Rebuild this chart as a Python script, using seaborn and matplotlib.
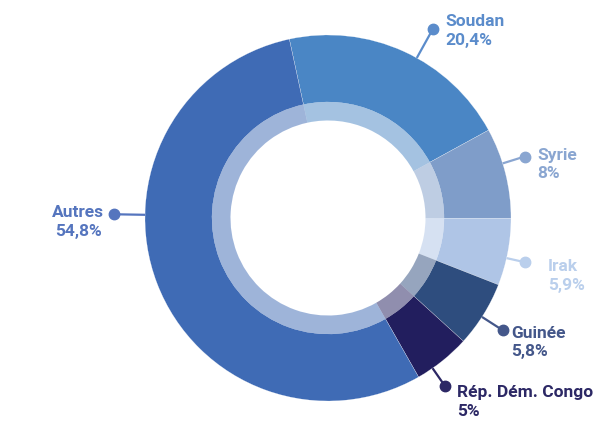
import numpy as np
import matplotlib
matplotlib.use("Agg")
import matplotlib.pyplot as plt
import seaborn as sns

# Origin of asylum applications (share in %)
countries = ["Soudan", "Syrie", "Irak", "Guinée", "Rép. Dém. Congo", "Autres"]
shares = [20.4, 8, 5.9, 5.8, 5, 54.8]

slice_colors = ["#4A86C5", "#7F9DC9", "#AFC5E6", "#2E4D7E", "#221E5E", "#3F6BB5"]
label_colors = ["#5B8CCB", "#8AA6D1", "#BACFEC", "#44578A", "#2C2865", "#5575BE"]

sns.set_theme(style="white")
plt.rcParams["font.family"] = ["Roboto", "DejaVu Sans"]

W, H = 595, 423
fig = plt.figure(figsize=(W / 100, H / 100), dpi=100)
ax = fig.add_axes([0, 0, 1, 1])

cx, cy = 328, H - 218
r_out, r_mid, r_in = 183, 116, 97.5
offset = 12.2                 # ring starts slightly left of 12 o'clock
start = 90 + offset

# outer ring
ax.pie(shares, colors=slice_colors, startangle=start, counterclock=False,
       center=(cx, cy), radius=r_out, frame=True,
       wedgeprops=dict(width=r_out - r_mid, edgecolor="white", linewidth=0.15))
# inner translucent ring
ax.pie(shares, colors=slice_colors, startangle=start, counterclock=False,
       center=(cx, cy), radius=r_mid, frame=True,
       wedgeprops=dict(width=r_mid - r_in, edgecolor="none", alpha=0.5))
ax.set_xlim(0, W)
ax.set_ylim(0, H)
ax.set_aspect("equal")
ax.axis("off")

# leader lines and labels
angle_shift = [4.5, -3, 2, 1, 4, None]   # degrees, clockwise from the slice middle
dot_radius = [216, 206, 202, 208, 205, 214]
text_offset = [(13, -2), (13, -8), (23, -14), (8, -12), (12, -16), (-10, -8)]

cum = np.cumsum([0] + shares[:-1])
for i, (name, val) in enumerate(zip(countries, shares)):
    if angle_shift[i] is None:
        theta = 271.0
    else:
        theta = (cum[i] + val / 2) / 100 * 360 - offset + angle_shift[i]
    t = np.deg2rad(theta)
    x0, y0 = cx + r_out * np.sin(t), cy + r_out * np.cos(t)
    x1, y1 = cx + dot_radius[i] * np.sin(t), cy + dot_radius[i] * np.cos(t)
    col = label_colors[i]
    ax.plot([x0, x1], [y0, y1], color=col, lw=1.6, solid_capstyle="butt")
    ax.plot([x1], [y1], "o", color=col, markersize=7.5)
    pct = f"{val:g}".replace(".", ",") + "%"
    dx, dy = text_offset[i]
    ha = "right" if dx < 0 else "left"
    ax.text(x1 + dx, y1 + dy, f"{name}\n{pct}", ha=ha, va="center",
            multialignment="center" if dx < 0 else "left",
            color=col, fontsize=12.5, fontweight="bold", linespacing=1.3)

fig.savefig("out.png", dpi=100, facecolor="white")
